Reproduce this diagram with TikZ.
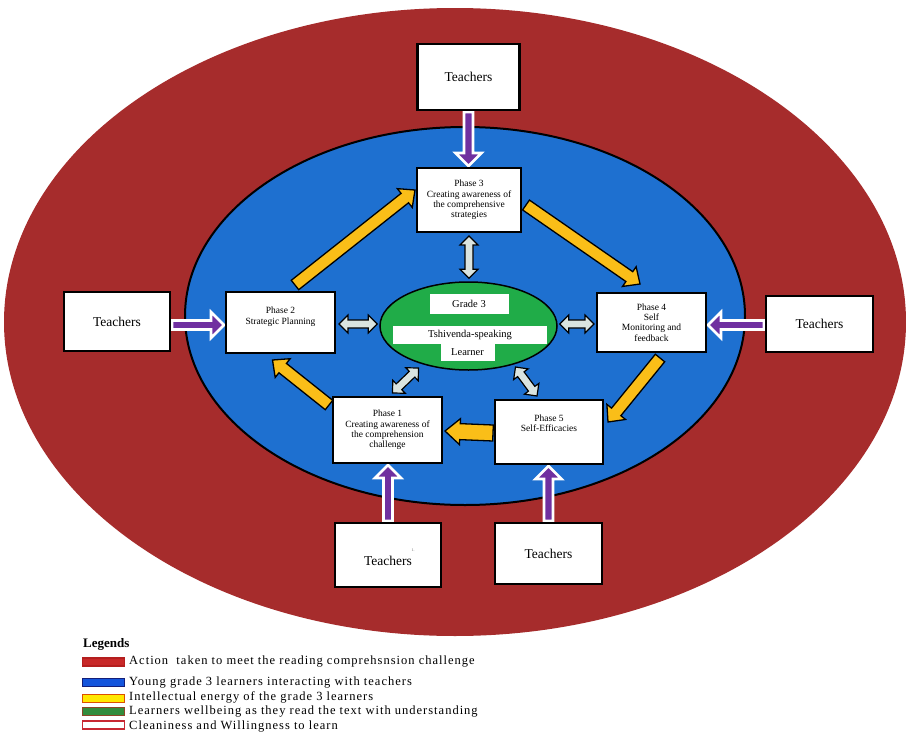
\documentclass[tikz,border=0pt]{standalone}
\usepackage{fontspec}
\setmainfont{Liberation Serif}
\newfontfamily\legfont[LetterSpace=8]{Liberation Serif}
\usetikzlibrary{calc,shapes.geometric}
\definecolor{redbg}{RGB}{166,44,44}
\definecolor{bluebg}{RGB}{30,112,208}
\definecolor{greenbg}{RGB}{32,172,72}
\definecolor{yellowA}{RGB}{250,190,24}
\definecolor{grayA}{RGB}{218,228,224}
\definecolor{purpleA}{RGB}{112,48,160}
\pgfdeclarelayer{bg}
\pgfdeclarelayer{arr}
\pgfsetlayers{bg,arr,main}
\newcommand\fatarrow[6]{%
  \coordinate (fah) at ($(#3)!#6!(#2)$);
  \draw[#1] ($(#2)!#4!90:(#3)$) -- ($(fah)!#4!90:(#3)$) -- ($(fah)!#5!90:(#3)$) -- (#3)
    -- ($(fah)!#5!-90:(#3)$) -- ($(fah)!#4!-90:(#3)$) -- ($(#2)!#4!-90:(#3)$) -- cycle;}
\newcommand\dblarrow[6]{%
  \coordinate (dah1) at ($(#3)!#6!(#2)$);
  \coordinate (dah2) at ($(#2)!#6!(#3)$);
  \draw[#1] (#2) -- ($(dah2)!#5!90:(#3)$) -- ($(dah2)!#4!90:(#3)$) -- ($(dah1)!#4!90:(#3)$)
    -- ($(dah1)!#5!90:(#3)$) -- (#3) -- ($(dah1)!#5!-90:(#3)$) -- ($(dah1)!#4!-90:(#3)$)
    -- ($(dah2)!#4!-90:(#3)$) -- ($(dah2)!#5!-90:(#3)$) -- cycle;}
\tikzset{
  teach/.style={draw=black, line width=2.2pt, fill=white, inner sep=0pt,
    font=\fontsize{13.5}{15}\selectfont},
  teachtext/.style={inner sep=0pt, font=\fontsize{13.5}{15}\selectfont},
  phase/.style={draw=black, line width=2pt, fill=white, align=center, inner sep=0pt,
    font=\fontsize{9.5}{10.3}\selectfont},
  wbox/.style={fill=white, inner sep=0pt, font=\fontsize{10.5}{12}\selectfont},
  yarrow/.style={fill=yellowA, draw=black, line width=1.3pt, line join=miter},
  garrow/.style={fill=grayA, draw=black, line width=1.2pt, line join=miter},
  parrow/.style={fill=purpleA, draw=white, line width=2.6pt, line join=miter},
  swatch/.style={minimum width=42pt, minimum height=8pt, inner sep=0pt, line width=1.6pt},
  legtext/.style={anchor=west, inner sep=0pt, font=\legfont\fontsize{12.5}{14}\selectfont},
}
\begin{document}
\begin{tikzpicture}[x=1pt,y=-1pt]
\useasboundingbox (0,0) rectangle (906,739);
\begin{pgfonlayer}{bg}
\fill[white] (0,0) rectangle (906,739);
\fill[redbg] (455,322) ellipse [x radius=451, y radius=314];
\draw[fill=bluebg, draw=black, line width=2pt] (465,316) ellipse [x radius=280, y radius=189];
\end{pgfonlayer}

% green centre
\node[ellipse, draw=black, line width=1.5pt, fill=greenbg, minimum width=177pt,
      minimum height=88pt, inner sep=0pt] (green) at (468.5,326) {};
\node[wbox, minimum width=79pt, minimum height=20pt] (grade) at (469,303.5) {Grade 3};
\node[wbox, minimum width=54pt, minimum height=17pt] (learner) at (467.5,352) {Learner};
\node[wbox, minimum width=154pt, minimum height=18pt] (tshi) at (470,335) {Tshivenda-speaking};

% phases
\node[phase, minimum width=104pt, minimum height=64pt] (p3) at (469,200)
  {Phase 3\\Creating awareness of\\the comprehensive\\strategies};
\node[phase, minimum width=109pt, minimum height=61pt] (p2) at (280.5,322.5)
  {Phase 2\\Strategic Planning\\[3pt]};
\node[phase, minimum width=109pt, minimum height=59pt] (p4) at (651.5,322.5)
  {Phase 4\\Self\\Monitoring and\\feedback};
\node[phase, minimum width=109pt, minimum height=66pt] (p1) at (387.5,430)
  {Phase 1\\Creating awareness of\\the comprehension\\challenge};
\node[phase, minimum width=108pt, minimum height=64pt] (p5) at (549,432)
  {Phase 5\\Self-Efficacies\\[8pt]};

% teachers
\node[teach, minimum width=102pt, minimum height=66pt] (t3) at (468.5,77) {Teachers};
\node[teach, minimum width=106pt, minimum height=59pt] (tL) at (117,321.5) {Teachers};
\node[teach, minimum width=107pt, minimum height=56pt] (tR) at (819.5,324) {Teachers};
\node[teach, minimum width=106pt, minimum height=64pt] (tBL) at (388,555) {};
\node[teachtext] (tBLt) at (388,561) {Teachers};
\node[teach, minimum width=107pt, minimum height=61pt] (tBR) at (548.5,553.5) {Teachers};
\node[inner sep=0pt, font=\fontsize{4}{4}\selectfont, text=black!60] (one) at (413,550) {1.};

% connector end points
\coordinate (y1a) at ($(p2.north)+(14.5,-6)$);  \coordinate (y1b) at ($(p3.west)+(-1,-10)$);
\coordinate (y2a) at ($(p3.east)+(4,5)$);       \coordinate (y2b) at ($(p4.north)+(-11.5,-8)$);
\coordinate (y3a) at ($(p4.south)+(8.5,5)$);    \coordinate (y3b) at ($(p5.east)+(4,-10)$);
\coordinate (y4a) at ($(p5.west)+(-1,1)$);      \coordinate (y4b) at ($(p1.east)+(2,1)$);
\coordinate (y5a) at ($(p1.west)+(-3,-25)$);    \coordinate (y5b) at ($(p2.south)+(-8,6)$);

\coordinate (g1a) at ($(p3.south)+(0,3)$);      \coordinate (g1b) at ($(g1a |- green.north)+(0,-3)$);
\coordinate (g2a) at ($(p2.east)+(3,1.5)$);     \coordinate (g2b) at ($(green.west)+(-2,-2)$);
\coordinate (g3a) at ($(green.east)+(2,-2)$);   \coordinate (g3b) at ($(p4.west)+(-2,1.5)$);
\coordinate (g4a) at ($(green.center)+(-50,42)$); \coordinate (g4b) at ($(p1.north)+(5,-3)$);
\coordinate (g5a) at ($(green.center)+(47,41)$);  \coordinate (g5b) at ($(p5.north)+(-12,-3)$);

\coordinate (u1a) at ($(t3.south)+(0,1)$);      \coordinate (u1b) at ($(u1a |- p3.north)+(0,-1)$);
\coordinate (u2a) at ($(tL.east)+(1,3.5)$);     \coordinate (u2b) at ($(u2a -| p2.west)+(-1,0)$);
\coordinate (u3a) at ($(tR.west)+(-1,1)$);      \coordinate (u3b) at ($(u3a -| p4.east)+(1,0)$);
\coordinate (u4a) at ($(tBL.north)+(0,-1)$);    \coordinate (u4b) at ($(u4a |- p1.south)+(0,1)$);
\coordinate (u5a) at ($(tBR.north)+(0,-1)$);    \coordinate (u5b) at ($(u5a |- p5.south)+(0,1)$);

\begin{pgfonlayer}{arr}
\fatarrow{yarrow}{y1a}{y1b}{6pt}{12pt}{13pt}
\fatarrow{yarrow}{y2a}{y2b}{6pt}{12pt}{13pt}
\fatarrow{yarrow}{y3a}{y3b}{6pt}{12pt}{13pt}
\fatarrow{yarrow}{y4a}{y4b}{8pt}{13pt}{15pt}
\fatarrow{yarrow}{y5a}{y5b}{6pt}{12pt}{13pt}
\dblarrow{garrow}{g1a}{g1b}{4pt}{9pt}{9pt}
\dblarrow{garrow}{g2a}{g2b}{4pt}{9pt}{9pt}
\dblarrow{garrow}{g3a}{g3b}{4pt}{9pt}{9pt}
\dblarrow{garrow}{g4a}{g4b}{4pt}{9pt}{9pt}
\dblarrow{garrow}{g5a}{g5b}{4pt}{9pt}{9pt}
\fatarrow{parrow}{u1a}{u1b}{4.5pt}{13pt}{13pt}
\fatarrow{parrow}{u2a}{u2b}{4.5pt}{13pt}{13pt}
\fatarrow{parrow}{u3a}{u3b}{4.5pt}{13pt}{13pt}
\fatarrow{parrow}{u4a}{u4b}{4.5pt}{13pt}{13pt}
\fatarrow{parrow}{u5a}{u5b}{4.5pt}{13pt}{13pt}
\end{pgfonlayer}

% legend
\node[anchor=west, inner sep=0pt, font=\bfseries\fontsize{13}{14}\selectfont] (legt) at (83,644) {Legends};
\node[swatch, fill={rgb,255:red,200;green,40;blue,40}, draw={rgb,255:red,180;green,30;blue,30}] (s1) at (103.5,662) {};
\node[swatch, fill={rgb,255:red,20;green,85;blue,220}, draw={rgb,255:red,20;green,30;blue,120}] (s2) at (103.5,682.5) {};
\node[swatch, fill={rgb,255:red,255;green,232;blue,0}, draw={rgb,255:red,220;green,80;blue,0}] (s3) at (103.5,698.5) {};
\node[swatch, fill={rgb,255:red,50;green,140;blue,60}, draw={rgb,255:red,140;green,70;blue,40}] (s4) at (103.5,711.5) {};
\node[swatch, fill=white, draw={rgb,255:red,200;green,40;blue,50}] (s5) at (103.5,725) {};
\node[legtext] (l1) at (129,662) {Action~ taken to meet the reading comprehsnsion challenge};
\node[legtext] (l2) at (129,682.5) {Young grade 3 learners interacting with teachers};
\node[legtext] (l3) at (129,697.5) {Intellectual energy of the grade 3 learners};
\node[legtext] (l4) at (129,712) {Learners wellbeing as they read the text with understanding};
\node[legtext] (l5) at (129,727) {Cleaniness and Willingness to learn};
\end{tikzpicture}
\end{document}
